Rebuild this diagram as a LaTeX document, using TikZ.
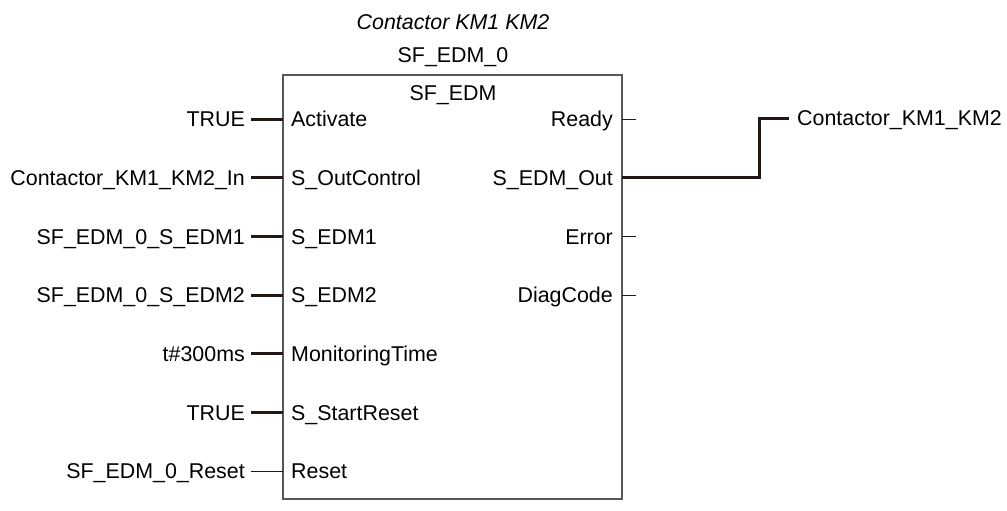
\documentclass[tikz,border=0pt]{standalone}
\usepackage{fontspec}
\setmainfont{Liberation Sans}
\definecolor{wirec}{HTML}{231815}
\definecolor{boxc}{HTML}{595757}
\begin{document}
\begin{tikzpicture}[x=1pt,y=-1pt,
  lbl/.style={inner sep=0pt,font=\fontsize{21.4}{25}\selectfont,text=black},
  thickwire/.style={line width=3pt,draw=wirec},
  thinwire/.style={line width=1pt,draw=wirec},
  fbbox/.style={draw=boxc,line width=1.5pt,minimum width=339pt,minimum height=424pt,inner sep=0pt}]
\useasboundingbox (0,0) rectangle (1007,511);
\node[fbbox] (fb) at (452.5,287) {};
\node[lbl,anchor=base] (inst) at (453,29.7) {\itshape Contactor KM1 KM2};
\node[lbl,anchor=base] (iname) at (453,62.7) {SF\_EDM\_0};
\node[lbl,anchor=base] (tname) at (453,100) {SF\_EDM};
% inputs
\foreach \i/\y/\ext/\pin/\w in {1/119/TRUE/Activate/thickwire,
  2/177.7/Contactor\_KM1\_KM2\_In/S\_OutControl/thickwire,
  3/236.3/SF\_EDM\_0\_S\_EDM1/S\_EDM1/thickwire,
  4/295/SF\_EDM\_0\_S\_EDM2/S\_EDM2/thickwire,
  5/353.7/t\#300ms/MonitoringTime/thickwire,
  6/412.3/TRUE/S\_StartReset/thickwire,
  7/471/SF\_EDM\_0\_Reset/Reset/thinwire}{
  \node[lbl,anchor=base east] (ext\i) at (245,\y+7.7) {\ext};
  \node[lbl,anchor=base west] (pin\i) at (291,\y+7.7) {\pin};
  \coordinate (s\i) at (251,\y);
  \coordinate (p\i) at (283,\y);
  \draw[\w] (s\i) -- (p\i);
}
% outputs
\foreach \i/\y/\pin in {1/119/Ready,3/236.3/Error,4/295/DiagCode}{
  \node[lbl,anchor=base east] (out\i) at (613,\y+7.7) {\pin};
  \coordinate (q\i) at (622,\y);
  \coordinate (r\i) at (636,\y);
  \draw[thinwire] (q\i) -- (r\i);
}
\node[lbl,anchor=base east] (out2) at (613,177.7+7.7) {S\_EDM\_Out};
\coordinate (q2) at (622,177.7);
\coordinate (bend1) at (759,177.7);
\coordinate (bend2) at (759,118);
\coordinate (r2) at (789,118);
\node[lbl,anchor=base west] (outv) at (797,118+7.7) {Contactor\_KM1\_KM2};
\draw[thickwire] (q2) -- (bend1) -- (bend2) -- (r2);
\end{tikzpicture}
\end{document}
